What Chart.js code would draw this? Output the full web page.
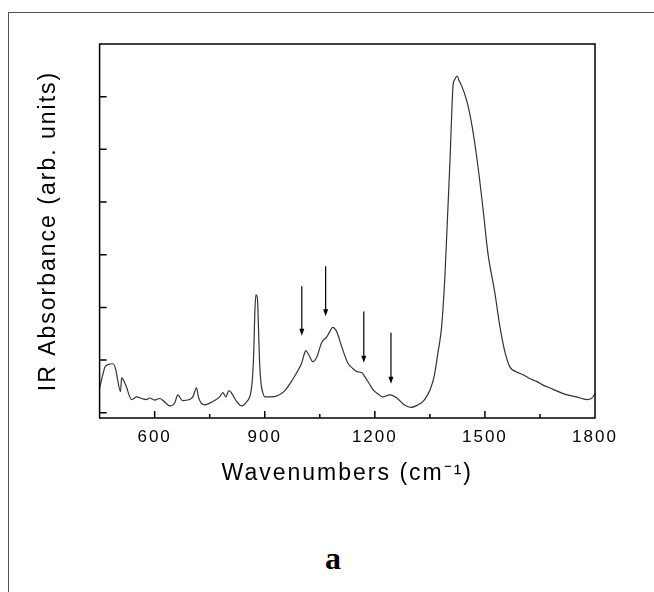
<!DOCTYPE html>
<html>
<head>
<meta charset="utf-8">
<script src="https://cdn.jsdelivr.net/npm/chart.js@4.4.1/dist/chart.umd.min.js"></script>
<style>
  html, body { margin: 0; padding: 0; background: #fff; }
  body { width: 654px; height: 592px; position: relative; overflow: hidden; }
  #frame { position: absolute; left: 8px; top: 12px; right: -2px; bottom: -2px;
           border-left: 1px solid #555; border-top: 1px solid #555; }
  #wrap { position: absolute; left: 0; top: 0; width: 654px; height: 500px; }
  #panel { position: absolute; left: 0; width: 654px; top: 540px; text-align: center;
           font: bold 32px "Liberation Serif", serif; color: #000; padding-left: 12px; box-sizing: border-box; }
</style>
</head>
<body>
<div id="frame"></div>
<div id="wrap"><canvas id="irChart"></canvas></div>
<div id="panel">a</div>
<script>
// wavenumbers (cm-1) and absorbance
const wavenumbers = [450, 458, 464, 472, 486, 494, 499, 507, 510, 521, 537, 551, 565, 578, 586, 600, 614, 628, 641, 655,
  663, 676, 695, 704, 714, 720, 736, 758, 777, 786, 794, 802, 824, 837, 851, 862, 867, 870, 873, 876,
  880, 883, 886, 890, 894, 900, 920, 940, 955, 976, 992, 1001, 1008, 1012, 1020, 1031, 1042, 1055, 1069, 1078,
  1085, 1096, 1110, 1126, 1140, 1151, 1165, 1173, 1185, 1195, 1210, 1222, 1235, 1241, 1260, 1280, 1298, 1315, 1331, 1342,
  1352, 1362, 1372, 1382, 1391, 1399, 1405, 1410, 1413, 1418, 1424, 1430, 1437, 1451, 1465, 1481, 1495, 1508, 1527, 1541,
  1555, 1568, 1585, 1604, 1622, 1642, 1660, 1677, 1700, 1724, 1750, 1778, 1790, 1800];
const absorbance = [0.47, 0.70, 0.86, 0.91, 0.93, 0.82, 0.63, 0.40, 0.66, 0.53, 0.25, 0.30, 0.27, 0.25, 0.28, 0.24, 0.27, 0.20, 0.13, 0.19,
  0.34, 0.23, 0.25, 0.30, 0.47, 0.28, 0.15, 0.21, 0.30, 0.38, 0.30, 0.42, 0.21, 0.13, 0.21, 0.38, 0.70, 1.14, 1.90, 2.24,
  2.18, 1.60, 0.95, 0.55, 0.40, 0.30, 0.30, 0.34, 0.42, 0.63, 0.82, 0.95, 1.12, 1.18, 1.10, 0.97, 1.06, 1.33, 1.44, 1.55,
  1.62, 1.54, 1.25, 0.95, 0.84, 0.78, 0.76, 0.68, 0.55, 0.44, 0.35, 0.30, 0.33, 0.34, 0.28, 0.15, 0.10, 0.14, 0.21, 0.32,
  0.46, 0.70, 1.14, 1.63, 2.59, 3.86, 4.81, 5.76, 6.20, 6.33, 6.39, 6.30, 6.20, 5.91, 5.44, 4.68, 3.86, 3.04, 2.28, 1.63,
  1.14, 0.87, 0.78, 0.72, 0.65, 0.59, 0.52, 0.47, 0.40, 0.34, 0.30, 0.25, 0.27, 0.36];

// arrows marking the weak bands
const arrowX = [1001, 1066, 1170, 1244];
const arrowTop = [2.40, 2.78, 1.92, 1.52];
const arrowTip = [1.46, 1.83, 0.95, 0.55];

const xTickLabels = [600, 900, 1200, 1500, 1800];
const yTicks = [0, 1, 2, 3, 4, 5, 6];

const points = wavenumbers.map((w, i) => ({ x: w, y: absorbance[i] }));

// the original lettering is set quite wide
const wideText = {
  id: 'wideText',
  beforeLayout(chart) { chart.ctx.letterSpacing = '2px'; },
  beforeDraw(chart) { chart.ctx.letterSpacing = '2px'; }
};

// box, inward ticks and arrows
const decorations = {
  id: 'decorations',
  afterDatasetsDraw(chart) {
    const { ctx, chartArea: a, scales: { x, y } } = chart;
    ctx.save();
    ctx.strokeStyle = '#000';
    ctx.lineWidth = 1.5;
    ctx.strokeRect(a.left, a.top, a.right - a.left, a.bottom - a.top);

    ctx.beginPath();
    x.ticks.forEach(t => {
      if (t.value <= x.min || t.value >= x.max) return;
      const px = x.getPixelForValue(t.value);
      const len = xTickLabels.includes(t.value) ? 7 : 4;
      ctx.moveTo(px, a.bottom);
      ctx.lineTo(px, a.bottom - len);
    });
    yTicks.forEach(v => {
      const py = y.getPixelForValue(v);
      ctx.moveTo(a.left, py);
      ctx.lineTo(a.left + 7, py);
    });
    ctx.stroke();

    ctx.lineWidth = 1.2;
    ctx.fillStyle = '#000';
    arrowX.forEach((w, i) => {
      const px = x.getPixelForValue(w);
      const y0 = y.getPixelForValue(arrowTop[i]);
      const y1 = y.getPixelForValue(arrowTip[i]);
      ctx.beginPath();
      ctx.moveTo(px, y0);
      ctx.lineTo(px, y1 - 5);
      ctx.stroke();
      ctx.beginPath();
      ctx.moveTo(px - 2.5, y1 - 7);
      ctx.lineTo(px + 2.5, y1 - 7);
      ctx.lineTo(px, y1);
      ctx.closePath();
      ctx.fill();
    });
    ctx.restore();
  }
};

new Chart(document.getElementById('irChart'), {
  type: 'line',
  data: {
    datasets: [{
      data: points,
      borderColor: '#333',
      borderWidth: 1.2,
      pointRadius: 0,
      fill: false,
      cubicInterpolationMode: 'monotone'
    }]
  },
  options: {
    responsive: true,
    maintainAspectRatio: false,
    animation: false,
    layout: { padding: { top: 44, right: 59, left: 35, bottom: 13 } },
    plugins: { legend: { display: false }, tooltip: { enabled: false } },
    scales: {
      x: {
        type: 'linear',
        min: 450,
        max: 1800,
        grid: { display: false, drawTicks: false },
        border: { display: false },
        ticks: {
          stepSize: 150,
          padding: 9,
          color: '#000',
          font: { family: 'Liberation Sans, Arial, sans-serif', size: 17 },
          callback: v => xTickLabels.includes(v) ? String(v) : ''
        },
        title: {
          display: true,
          text: 'Wavenumbers (cm⁻¹)',
          color: '#000',
          padding: { top: 3, bottom: 0 },
          font: { family: 'Liberation Sans, Arial, sans-serif', size: 23 }
        }
      },
      y: {
        min: -0.1,
        max: 7,
        grid: { display: false, drawTicks: false },
        border: { display: false },
        ticks: { display: false, stepSize: 1 },
        title: {
          display: true,
          text: 'IR Absorbance (arb. units)',
          color: '#000',
          padding: { top: 0, bottom: 37 },
          font: { family: 'Liberation Sans, Arial, sans-serif', size: 23 }
        }
      }
    }
  },
  plugins: [wideText, decorations]
});
</script>
</body>
</html>
